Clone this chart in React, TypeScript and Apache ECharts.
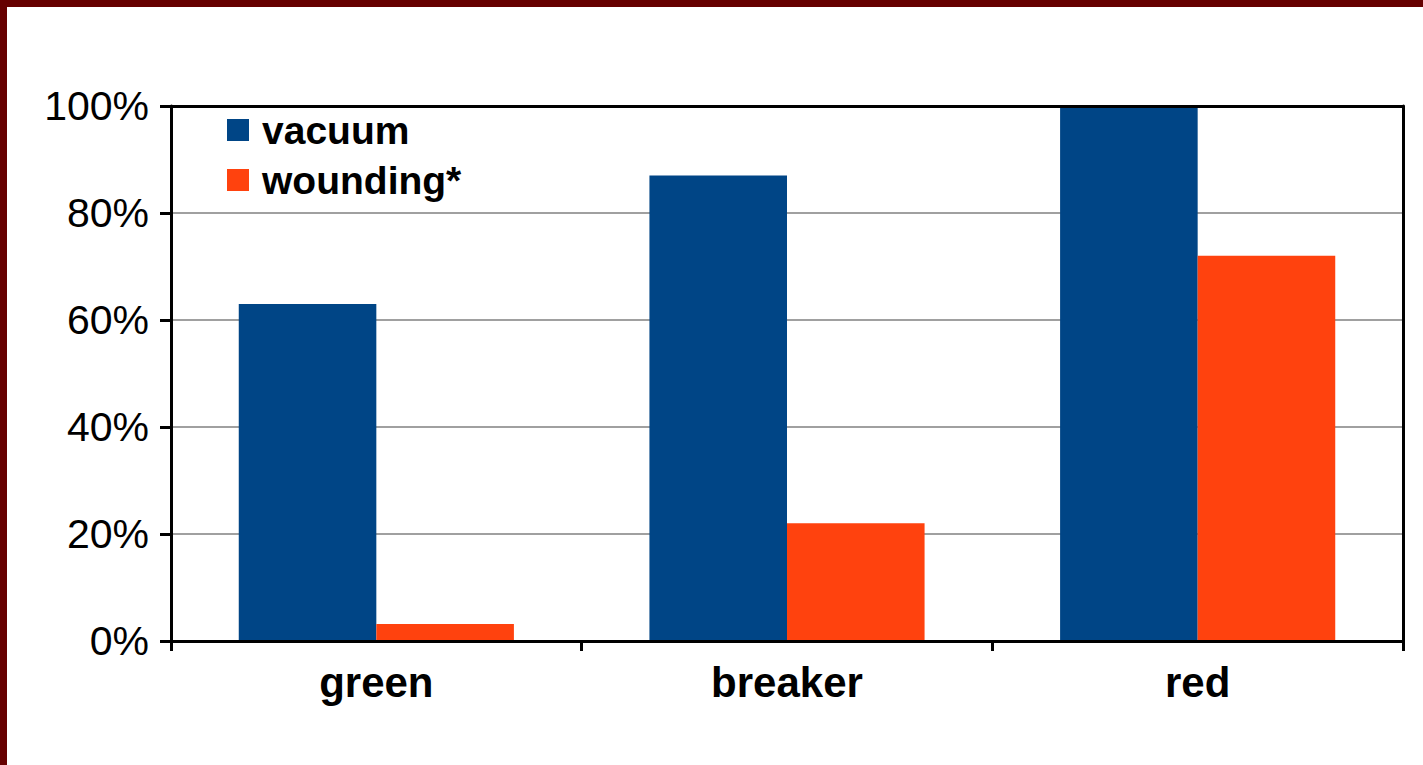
import React, { useEffect, useRef } from "react";
import * as echarts from "echarts";

const categories = ["green", "breaker", "red"];
const vacuum = [63, 87, 100];
const wounding = [3.2, 22, 72];
const yTicks = [0, 20, 40, 60, 80, 100];

export default function App() {
  const ref = useRef<HTMLDivElement>(null);
  useEffect(() => {
    document.body.style.margin = "0";
    const chart = echarts.init(ref.current!, null, { renderer: "svg" });
    const font = "'Liberation Sans', Arial, sans-serif";
    chart.setOption({
      animation: false,
      backgroundColor: "#ffffff",
      grid: {
        left: 164,
        top: 99,
        right: 20,
        bottom: 124,
        show: false,
        containLabel: false,
      },
      legend: {
        orient: "vertical",
        left: 220,
        top: 103,
        padding: 0,
        itemWidth: 22,
        itemHeight: 22,
        itemGap: 10,
        icon: "rect",
        textStyle: {
          fontFamily: font,
          fontWeight: "bold",
          fontSize: 39,
          lineHeight: 40,
          color: "#000",
          padding: [0, 0, 0, 8],
        },
        data: ["vacuum", "wounding*"],
      },
      xAxis: [
        {
          type: "category",
          data: categories,
          axisLine: { onZero: false, lineStyle: { color: "#000", width: 3 } },
          axisTick: { show: true, length: 10, alignWithLabel: false, lineStyle: { color: "#000", width: 3 } },
          axisLabel: {
            fontFamily: font,
            fontWeight: "bold",
            fontSize: 42,
            color: "#000",
            margin: 20,
          },
          z: 10,
        },
        {
          type: "category",
          data: categories,
          position: "top",
          axisLine: { show: true, onZero: false, lineStyle: { color: "#000", width: 3 } },
          axisTick: { show: false },
          axisLabel: { show: false },
          splitLine: { show: false },
          z: 10,
        },
      ],
      yAxis: [
        {
          type: "value",
          min: 0,
          max: 100,
          interval: 20,
          axisLine: { show: true, onZero: false, lineStyle: { color: "#000", width: 3 } },
          axisTick: { show: true, length: 11, lineStyle: { color: "#000", width: 3 } },
          splitLine: { lineStyle: { color: "#808080", width: 1.5 } },
          axisLabel: {
            fontFamily: font,
            fontSize: 41,
            color: "#000",
            margin: 22,
            formatter: (v: number) => (yTicks.includes(v) ? v + "%" : ""),
          },
          z: 1,
        },
        {
          type: "value",
          min: 0,
          max: 100,
          interval: 20,
          position: "right",
          axisLine: { show: true, onZero: false, lineStyle: { color: "#000", width: 3 } },
          axisTick: { show: false },
          axisLabel: { show: false },
          splitLine: { show: false },
          z: 10,
        },
      ],
      series: [
        {
          name: "vacuum",
          type: "bar",
          data: vacuum,
          itemStyle: { color: "#004586" },
          barGap: "0%",
          barCategoryGap: "33%",
          z: 3,
        },
        {
          name: "wounding*",
          type: "bar",
          data: wounding,
          itemStyle: { color: "#ff420e" },
          barGap: "0%",
          barCategoryGap: "33%",
          z: 3,
        },
      ],
    });
    return () => chart.dispose();
  }, []);
  return (
    <div
      style={{
        position: "fixed",
        left: 0,
        top: 0,
        width: 1423,
        height: 765,
        boxSizing: "border-box",
        borderTop: "7px solid #660000",
        borderLeft: "7px solid #660000",
        background: "#fff",
      }}
    >
      <div ref={ref} style={{ width: 1416, height: 758 }} />
    </div>
  );
}
